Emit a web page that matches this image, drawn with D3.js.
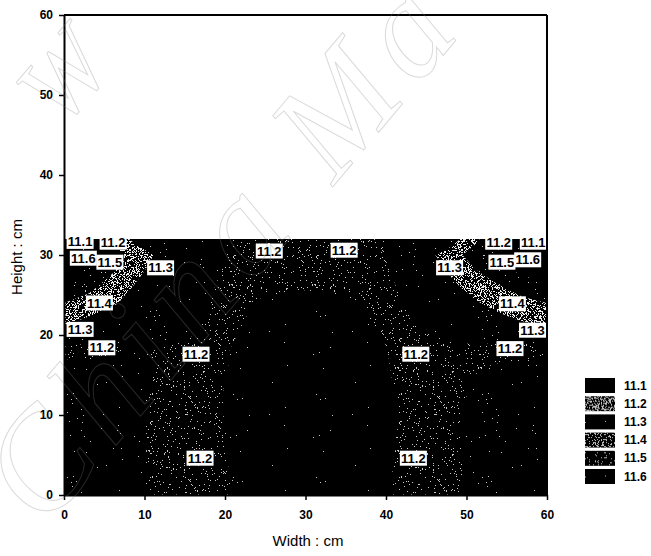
<!DOCTYPE html>
<html>
  <head>
    <script src="https://d3js.org/d3.v7.min.js"></script>
    <meta charset="utf-8">
    <style>
    body {
      margin: 0;
      background: #fff;
    }

    text {
      font-family: "Liberation Sans", sans-serif;
      fill: #000;
    }

    .tick-label {
      font-size: 12px;
      font-weight: bold;
    }

    .axis-title {
      font-size: 15px;
    }

    .contour-label {
      font-size: 13px;
      font-weight: bold;
      text-anchor: middle;
    }

    .legend-label {
      font-size: 12px;
      font-weight: bold;
    }

    .watermark {
      font-family: "Liberation Serif", serif;
      font-style: italic;
      fill: none;
      stroke: rgba(128, 128, 128, 0.3);
      stroke-width: 1;
    }
    </style>
  </head>
  <body>
    <div id="chart"></div>
    <script>
    var xTicks = [0, 10, 20, 30, 40, 50, 60];
    var yTicks = [0, 10, 20, 30, 40, 50, 60];
    var levels = [11.1, 11.2, 11.3, 11.4, 11.5, 11.6];
    var thresholds = [11.15, 11.25, 11.35, 11.45, 11.55];

    // columns are x = 0, 3, 6 ... 60
    var gridStepX = 3;
    var gridStepY = 2;
    var row0 = [11.32,11.32,11.30,11.27,11.22,11.20,11.18,11.15,11.09,11.07,11.06,11.07,11.09,11.12,11.17,11.21,11.23,11.27,11.30,11.32,11.32];
    var row2 = [11.32,11.32,11.30,11.27,11.22,11.20,11.18,11.15,11.09,11.07,11.06,11.07,11.09,11.12,11.17,11.21,11.23,11.27,11.30,11.32,11.32];
    var row4 = [11.32,11.32,11.30,11.27,11.22,11.20,11.18,11.14,11.08,11.06,11.05,11.06,11.08,11.12,11.17,11.21,11.23,11.27,11.30,11.32,11.32];
    var row6 = [11.32,11.32,11.30,11.27,11.22,11.20,11.18,11.14,11.08,11.06,11.05,11.06,11.08,11.12,11.16,11.21,11.23,11.27,11.30,11.32,11.32];
    var row8 = [11.32,11.32,11.30,11.27,11.22,11.20,11.18,11.14,11.08,11.06,11.05,11.06,11.08,11.11,11.16,11.21,11.23,11.27,11.30,11.32,11.32];
    var row10 = [11.32,11.32,11.30,11.27,11.22,11.20,11.18,11.13,11.08,11.06,11.05,11.06,11.08,11.11,11.16,11.21,11.23,11.27,11.30,11.32,11.32];
    var row12 = [11.31,11.31,11.30,11.27,11.22,11.20,11.18,11.13,11.08,11.06,11.05,11.06,11.08,11.11,11.16,11.21,11.23,11.26,11.29,11.31,11.31];
    var row14 = [11.30,11.30,11.30,11.28,11.23,11.21,11.18,11.13,11.08,11.06,11.05,11.06,11.08,11.12,11.17,11.22,11.23,11.26,11.28,11.29,11.30];
    var row16 = [11.28,11.27,11.29,11.28,11.24,11.22,11.19,11.14,11.08,11.06,11.05,11.06,11.08,11.12,11.18,11.22,11.22,11.24,11.26,11.27,11.27];
    var row18 = [11.22,11.22,11.24,11.26,11.24,11.22,11.20,11.14,11.08,11.06,11.05,11.06,11.08,11.13,11.18,11.21,11.22,11.23,11.22,11.21,11.21];
    var row20 = [11.30,11.29,11.28,11.28,11.27,11.26,11.24,11.16,11.10,11.07,11.06,11.07,11.10,11.14,11.20,11.24,11.27,11.28,11.28,11.29,11.31];
    var row22 = [11.38,11.34,11.32,11.30,11.28,11.27,11.25,11.18,11.12,11.09,11.08,11.09,11.12,11.17,11.24,11.27,11.29,11.31,11.33,11.36,11.39];
    var row24 = [11.45,11.41,11.36,11.32,11.29,11.27,11.25,11.20,11.14,11.12,11.11,11.12,11.14,11.20,11.25,11.28,11.30,11.34,11.38,11.42,11.45];
    var row26 = [11.54,11.48,11.40,11.34,11.30,11.28,11.26,11.22,11.18,11.17,11.16,11.17,11.18,11.22,11.26,11.29,11.33,11.38,11.44,11.50,11.54];
    var row28 = [11.58,11.53,11.46,11.37,11.31,11.29,11.27,11.23,11.20,11.19,11.18,11.19,11.20,11.23,11.27,11.30,11.36,11.44,11.52,11.57,11.59];
    var row30 = [11.60,11.56,11.50,11.40,11.33,11.30,11.28,11.24,11.21,11.20,11.20,11.20,11.21,11.24,11.28,11.32,11.40,11.50,11.55,11.59,11.60];
    var row32 = [11.60,11.58,11.42,11.32,11.30,11.29,11.28,11.24,11.22,11.20,11.20,11.20,11.22,11.24,11.28,11.30,11.30,11.42,11.56,11.59,11.60];
    var grid = [row0, row2, row4, row6, row8, row10, row12, row14, row16, row18, row20, row22, row24, row26, row28, row30, row32];

    var labelText = ["11.1","11.2","11.6","11.5","11.3","11.2","11.4","11.3","11.2","11.2","11.2","11.2","11.1","11.5","11.6","11.3","11.2","11.4","11.3","11.2","11.2","11.2"];
    var labelX = [2.0,6.1,2.4,5.7,12.0,25.5,4.4,2.0,4.7,16.4,16.9,34.8,58.3,54.4,57.6,47.9,54.0,55.7,58.2,55.4,43.7,43.4];
    var labelY = [31.7,31.6,29.6,29.1,28.4,30.5,24.0,20.7,18.4,17.6,4.6,30.6,31.6,29.1,29.4,28.4,31.6,23.9,20.6,18.3,17.6,4.6];

    var width = 651, height = 556;
    var x = d3.scaleLinear().domain([0, 60]).range([64, 547]);
    var y = d3.scaleLinear().domain([0, 60]).range([495, 15]);

    var svg = d3.select("#chart").append("svg")
      .attr("width", width)
      .attr("height", height)
      .style("display", "block");

    var defs = svg.append("defs");

    // speckle tiles, lit pixels picked by an integer hash so no stripes show up
    function addSpeckle(id, share, colour) {
      var size = 83;
      var tile = defs.append("pattern")
        .attr("id", id)
        .attr("patternUnits", "userSpaceOnUse")
        .attr("width", size)
        .attr("height", size);
      tile.append("rect").attr("width", size).attr("height", size).attr("fill", "#000");
      var d = "";
      for (var py = 0; py < size; py++) {
        for (var px = 0; px < size; px++) {
          var h = Math.imul(px * 73856093 ^ py * 19349663, 83492791);
          h = (h ^ (h >>> 13)) >>> 0;
          if (h % 1000 < share * 1000) d += "M" + px + "," + py + "h1v1h-1z";
        }
      }
      tile.append("path").attr("d", d).attr("fill", colour);
    }

    var bandShare = [0.002, 0.045, 0.006, 0.34, 0.012, 0.001];
    var legendShare = [0, 0.42, 0.006, 0.24, 0.08, 0.003];
    bandShare.forEach(function (s, i) { addSpeckle("band" + i, s, i == 3 ? "#eee" : "#c8c8c8"); });
    legendShare.forEach(function (s, i) { addSpeckle("legend" + i, s, "#bbb"); });

    defs.append("clipPath").attr("id", "plot-clip").append("rect")
      .attr("x", x(0))
      .attr("y", y(32))
      .attr("width", x(60) - x(0))
      .attr("height", y(0) - y(32));

    // contours
    var nx = grid[0].length, ny = grid.length;
    var values = [];
    grid.forEach(function (r) { r.forEach(function (v) { values.push(v); }); });

    var contours = d3.contours().size([nx, ny]).thresholds(thresholds)(values);
    var path = d3.geoPath(d3.geoTransform({
      point: function (px, py) {
        this.stream.point(x((px - 0.5) * gridStepX), y((py - 0.5) * gridStepY));
      }
    }));

    var plot = svg.append("g").attr("clip-path", "url(#plot-clip)");
    plot.append("rect")
      .attr("x", x(0))
      .attr("y", y(32))
      .attr("width", x(60) - x(0))
      .attr("height", y(0) - y(32))
      .attr("fill", "url(#band0)");
    plot.selectAll("path.band")
      .data(contours)
      .enter().append("path")
      .attr("class", "band")
      .attr("d", path)
      .attr("fill", function (d, i) { return "url(#band" + (i + 1) + ")"; });

    // contour labels with white boxes
    var labels = svg.append("g").selectAll("g")
      .data(labelText)
      .enter().append("g")
      .attr("transform", function (d, i) {
        return "translate(" + x(labelX[i]) + "," + y(labelY[i]) + ")";
      });
    labels.append("rect")
      .attr("x", -13.5)
      .attr("y", -7.5)
      .attr("width", 27)
      .attr("height", 15)
      .attr("fill", "#fff");
    labels.append("text")
      .attr("class", "contour-label")
      .attr("y", 4.5)
      .text(function (d) { return d; });

    // axes
    function styleAxis(g) {
      g.selectAll("text").attr("class", "tick-label").attr("fill", null);
      g.selectAll("line").attr("stroke", "#000").attr("stroke-width", 1.5);
      g.select(".domain").attr("stroke", "#000").attr("stroke-width", 2);
    }

    svg.append("g")
      .attr("transform", "translate(0," + y(0) + ")")
      .call(d3.axisBottom(x).tickValues(xTicks).tickSize(5).tickPadding(10).tickSizeOuter(0))
      .call(styleAxis);
    svg.append("g")
      .attr("transform", "translate(" + x(0) + ",0)")
      .call(d3.axisLeft(y).tickValues(yTicks).tickSize(5).tickPadding(6).tickSizeOuter(0))
      .call(styleAxis);
    svg.append("line")
      .attr("x1", x(0)).attr("x2", x(60))
      .attr("y1", y(60)).attr("y2", y(60))
      .attr("stroke", "#000").attr("stroke-width", 2);
    svg.append("line")
      .attr("x1", x(60)).attr("x2", x(60))
      .attr("y1", y(60)).attr("y2", y(0))
      .attr("stroke", "#000").attr("stroke-width", 2);

    svg.append("text")
      .attr("class", "axis-title")
      .attr("x", 308)
      .attr("y", 546)
      .attr("text-anchor", "middle")
      .text("Width : cm");
    svg.append("text")
      .attr("class", "axis-title")
      .attr("transform", "translate(22,257) rotate(-90)")
      .attr("text-anchor", "middle")
      .text("Height : cm");

    // legend
    var legendY = d3.scalePoint().domain(levels).range([385.5, 476.5]);
    var legend = svg.append("g").selectAll("g")
      .data(levels)
      .enter().append("g")
      .attr("transform", function (d) { return "translate(585," + legendY(d) + ")"; });
    legend.append("rect")
      .attr("y", -7.5)
      .attr("width", 30)
      .attr("height", 15)
      .attr("fill", function (d, i) { return "url(#legend" + i + ")"; });
    legend.append("text")
      .attr("class", "legend-label")
      .attr("x", 39)
      .attr("y", 4)
      .text(function (d) { return d3.format(".1f")(d); });

    // faint watermark over everything
    svg.append("text").attr("class", "watermark")
      .attr("font-size", 140)
      .attr("letter-spacing", 12)
      .attr("transform", "translate(45,530) rotate(-50)")
      .text("China Ma");
    svg.append("text").attr("class", "watermark")
      .attr("font-size", 100)
      .attr("transform", "translate(62,130) rotate(-50)")
      .text("W");
    </script>
  </body>
</html>
